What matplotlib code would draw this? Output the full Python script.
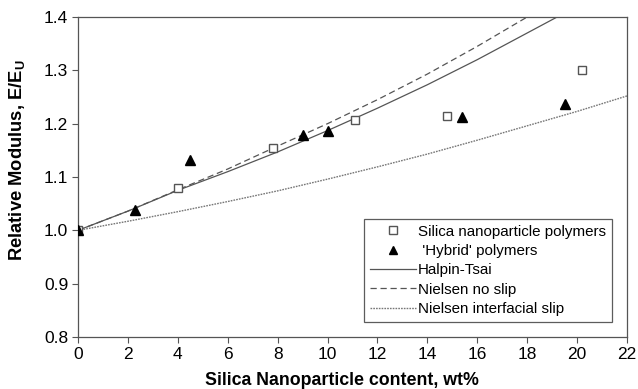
import matplotlib
matplotlib.use("Agg")
import matplotlib.pyplot as plt

plt.rcParams['font.family'] = ['Liberation Sans', 'DejaVu Sans']
plt.rcParams['mathtext.fontset'] = 'custom'
plt.rcParams['mathtext.rm'] = 'Liberation Sans'
plt.rcParams['mathtext.bf'] = 'Liberation Sans:bold'

# Measured data
silica_x = [0, 4.0, 7.8, 11.1, 14.8, 20.2]
silica_y = [1.0, 1.079, 1.155, 1.206, 1.215, 1.300]
hybrid_x = [0, 2.3, 4.5, 9.0, 10.0, 15.4, 19.5]
hybrid_y = [1.0, 1.038, 1.132, 1.179, 1.187, 1.213, 1.237]

# Model curves
halpin_x = [0, 2, 4, 6, 8, 10, 12, 14, 16, 18, 19.2]
halpin_y = [1.0, 1.036, 1.075, 1.110, 1.147, 1.187, 1.229, 1.273, 1.320, 1.370, 1.400]
noslip_x = [0, 2, 4, 6, 8, 10, 12, 14, 16, 18]
noslip_y = [1.0, 1.036, 1.076, 1.115, 1.158, 1.200, 1.245, 1.293, 1.345, 1.400]
slip_x = [0, 2, 4, 6, 8, 10, 12, 14, 16, 18, 20, 22]
slip_y = [1.0, 1.017, 1.035, 1.054, 1.074, 1.096, 1.119, 1.143, 1.169, 1.196, 1.223, 1.252]

xticks = [0, 2, 4, 6, 8, 10, 12, 14, 16, 18, 20, 22]
yticks = [0.8, 0.9, 1.0, 1.1, 1.2, 1.3, 1.4]

fig = plt.figure(figsize=(6.38, 3.89), dpi=100)
ax = fig.add_axes([78/638, 1-337/389, (627-78)/638, (337-17)/389])

lc = '#555555'
ax.plot(halpin_x, halpin_y, '-', color=lc, lw=0.9, label='Halpin-Tsai')
ax.plot(noslip_x, noslip_y, '--', color=lc, lw=0.9, dashes=(5, 3), label='Nielsen no slip')
ax.plot(slip_x, slip_y, ':', color='#777777', lw=1.0, dashes=(1.2, 0.8), label='Nielsen interfacial slip')
ax.plot(silica_x, silica_y, 's', ms=6, mfc='white', mec='#555555', mew=1.0, ls='none',
        label='Silica nanoparticle polymers', zorder=5)
ax.plot(hybrid_x, hybrid_y, '^', ms=6.5, color='black', ls='none',
        label=" 'Hybrid' polymers", zorder=6)

ax.set_xlim(0, 22)
ax.set_ylim(0.8, 1.4)
ax.set_xticks(xticks)
ax.set_yticks(yticks)
ax.set_xticklabels([str(t) for t in xticks])
ax.set_yticklabels([f'{t:.1f}' for t in yticks])
ax.tick_params(direction='out', length=4, width=0.8, color=lc, labelsize=12.5, pad=3)
for s in ax.spines.values():
    s.set_color(lc)
    s.set_linewidth(0.9)

ax.set_xlabel('Silica Nanoparticle content, wt%', fontsize=12.8, fontweight='bold')
ax.xaxis.set_label_coords(0.48, -0.108)
ax.set_ylabel(r'Relative Modulus, E/E$_\mathbf{U}$', fontsize=13.2, fontweight='bold')
ax.yaxis.set_label_coords(-0.092, 0.553)

handles, labels = ax.get_legend_handles_labels()
order = [3, 4, 0, 1, 2]
leg = ax.legend([handles[i] for i in order], [labels[i] for i in order],
                loc='lower right', bbox_to_anchor=(612/638, 1-322/389), bbox_transform=fig.transFigure,
                fontsize=10.9, frameon=True, fancybox=False, edgecolor='#333333',
                handlelength=3.0, handletextpad=0.15, borderpad=0.4, labelspacing=0.35,
                borderaxespad=0, markerscale=0.9)
leg.get_frame().set_linewidth(0.9)

fig.savefig('out.png', dpi=100)
